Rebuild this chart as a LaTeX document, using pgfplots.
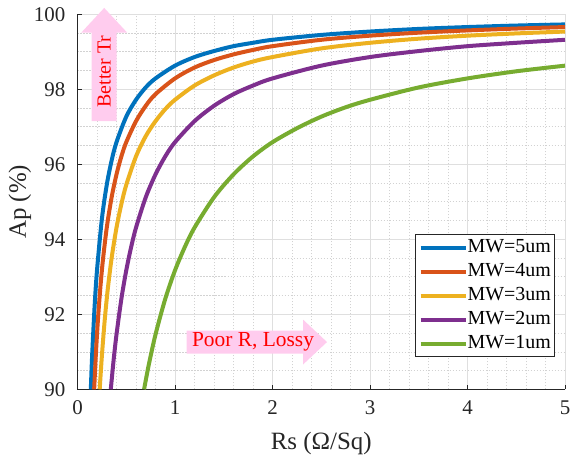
\documentclass[border=0pt]{standalone}
\usepackage{fontspec}
\setmainfont{Liberation Serif}
\newfontfamily\tnr{Liberation Serif}
\usepackage{pgfplots}
\pgfplotsset{compat=1.18}
\definecolor{mblue}{rgb}{0,0.447,0.741}
\definecolor{morange}{rgb}{0.850,0.325,0.098}
\definecolor{myellow}{rgb}{0.929,0.694,0.125}
\definecolor{mpurple}{rgb}{0.494,0.184,0.556}
\definecolor{mgreen}{rgb}{0.466,0.674,0.188}
\definecolor{arrowpink}{RGB}{255,204,238}
\definecolor{axgray}{RGB}{38,38,38}
\definecolor{gridmajor}{RGB}{223,223,223}
\definecolor{gridminor}{RGB}{210,210,210}

\begin{document}
\begin{tikzpicture}
\useasboundingbox (-77.5bp,-65.7bp) rectangle (492.5bp,389.3bp);
\begin{axis}[
  at={(0,0)}, anchor=south west,
  scale only axis, width=487.5bp, height=375bp,
  xmin=0, xmax=5, ymin=90, ymax=100,
  xtick={0,1,2,3,4,5}, ytick={90,92,94,96,98,100},
  xticklabels={0,1,2,3,4,5}, yticklabels={90,92,94,96,98,100},
  minor x tick num=4, minor y tick num=3,
  grid=both,
  major grid style={line width=0.6bp, color=gridmajor},
  minor grid style={line width=0.6bp, color=gridminor, dash pattern=on 1.2bp off 1.8bp},
  axis x line*=bottom, axis y line*=left,
  axis line style={line width=0.8bp, color=axgray},
  tick align=inside, major tick length=4.5bp, minor tick length=0pt,
  tick style={line width=0.8bp, color=axgray},
  ticklabel style={font=\tnr\fontsize{21}{25}\selectfont, text=axgray},
  xticklabel style={anchor=north, inner sep=0pt, yshift=-11bp},
  yticklabel style={anchor=east, inner sep=0pt, xshift=-12bp},
  xlabel={Rs (Ω/Sq)}, ylabel={Ap (\%)},
  xlabel style={at={(axis description cs:0.5,-0.144)}, anchor=center, font=\tnr\fontsize{25}{30}\selectfont, text=axgray},
  ylabel style={at={(axis description cs:-0.118,0.5)}, anchor=center, font=\tnr\fontsize{25}{30}\selectfont, text=axgray},
  clip mode=individual,
  legend style={at={(0.9774,0.0869)}, anchor=south east, draw=axgray, fill=white,
    inner sep=3bp, font=\tnr\fontsize{20}{24}\selectfont, row sep=4bp,
    nodes={inner sep=0pt, text height=15bp, text depth=5bp}},
  legend cell align=left,
  legend image code/.code={\draw[#1] (0bp,0bp) -- (45bp,0bp);},
  every axis plot/.append style={line width=4bp, smooth, tension=0.5},
]
% annotation arrows
\fill[arrowpink] (axis cs:1.12,90.953) -- (axis cs:2.313,90.953) -- (axis cs:2.313,90.66)
  -- (axis cs:2.559,91.26) -- (axis cs:2.313,91.86) -- (axis cs:2.313,91.567)
  -- (axis cs:1.12,91.567) -- cycle;
\node[text=red, font=\tnr\fontsize{21.5}{25}\selectfont] at (axis cs:1.80,91.26) {Poor R, Lossy};
\fill[arrowpink] (axis cs:0.146,97.15) -- (axis cs:0.402,97.15) -- (axis cs:0.402,99.51)
  -- (axis cs:0.51,99.51) -- (axis cs:0.274,100.17) -- (axis cs:0.038,99.51)
  -- (axis cs:0.146,99.51) -- cycle;
\node[text=red, rotate=90, font=\tnr\fontsize{20}{24}\selectfont] at (axis cs:0.274,98.47) {Better Tr};

\addplot[mblue] coordinates {
  (0.1366,90.00)(0.15,90.89)(0.175,92.19)(0.2,93.17)(0.25,94.54)(0.3,95.45)
  (0.35,96.10)(0.4,96.59)(0.5,97.27)(0.6,97.72)(0.7,98.05)(0.8,98.29)(1,98.63)
  (1.2,98.86)(1.4,99.02)(1.6,99.15)(1.8,99.24)(2,99.32)(2.5,99.45)(3,99.54)
  (3.5,99.61)(4,99.66)(4.5,99.70)(5,99.73)};
\addlegendentry{MW=5um}
\addplot[morange] coordinates {
  (0.1708,90.00)(0.19,91.01)(0.21,91.87)(0.235,92.73)(0.26,93.43)(0.3,94.31)
  (0.35,95.12)(0.4,95.73)(0.45,96.21)(0.5,96.59)(0.6,97.15)(0.7,97.56)(0.8,97.87)
  (1,98.29)(1.2,98.58)(1.4,98.78)(1.6,98.93)(1.8,99.05)(2,99.15)(2.5,99.32)
  (3,99.43)(3.5,99.51)(4,99.57)(4.5,99.62)(5,99.66)};
\addlegendentry{MW=4um}
\addplot[myellow] coordinates {
  (0.2277,90.00)(0.25,90.89)(0.28,91.87)(0.31,92.66)(0.35,93.50)(0.4,94.31)
  (0.45,94.94)(0.5,95.45)(0.6,96.21)(0.7,96.75)(0.8,97.15)(0.9,97.47)(1,97.72)
  (1.2,98.10)(1.4,98.37)(1.6,98.58)(1.8,98.74)(2,98.86)(2.5,99.09)(3,99.24)
  (3.5,99.35)(4,99.43)(4.5,99.49)(5,99.54)};
\addlegendentry{MW=3um}
\addplot[mpurple] coordinates {
  (0.3415,90.00)(0.37,90.77)(0.4,91.46)(0.45,92.41)(0.5,93.17)(0.55,93.79)
  (0.6,94.31)(0.7,95.12)(0.8,95.73)(0.9,96.21)(1,96.59)(1.2,97.15)(1.4,97.56)
  (1.6,97.87)(1.8,98.10)(2,98.29)(2.5,98.63)(3,98.86)(3.5,99.02)(4,99.15)
  (4.5,99.24)(5,99.32)};
\addlegendentry{MW=2um}
\addplot[mgreen] coordinates {
  (0.683,90.00)(0.73,90.64)(0.8,91.46)(0.9,92.41)(1,93.17)(1.1,93.79)(1.2,94.31)
  (1.4,95.12)(1.6,95.73)(1.8,96.21)(2,96.59)(2.25,96.96)(2.5,97.27)(2.75,97.52)
  (3,97.72)(3.5,98.05)(4,98.29)(4.5,98.48)(5,98.63)};
\addlegendentry{MW=1um}
\end{axis}
\end{tikzpicture}
\end{document}
